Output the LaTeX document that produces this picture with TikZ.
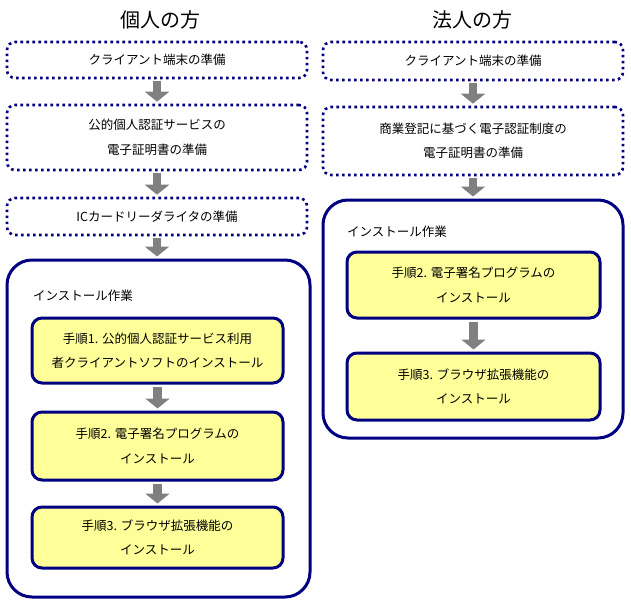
\documentclass[tikz,border=0pt]{standalone}
\usepackage{fontspec}
\setmainfont{Noto Sans CJK JP}
\usetikzlibrary{arrows.meta,positioning}
\definecolor{framenavy}{HTML}{000080}
\definecolor{stepyellow}{HTML}{FFFF99}
\definecolor{arrowgray}{HTML}{808080}
\tikzset{
  titlenode/.style={inner sep=0pt, font=\fontsize{20}{24}\selectfont},
  prepnode/.style={draw=framenavy, line width=2.6pt, dash pattern=on 2.6pt off 3.4pt, rounded corners=8pt, minimum width=300pt, align=center, inner sep=0pt, font=\fontsize{12.5}{24.5}\selectfont},
  groupnode/.style={draw=framenavy, line width=3pt, rounded corners=25pt, inner sep=0pt},
  stepnode/.style={draw=framenavy, fill=stepyellow, line width=3pt, rounded corners=10pt, align=center, inner sep=0pt, font=\fontsize{12.5}{24.5}\selectfont},
  labelnode/.style={anchor=west, inner sep=0pt, font=\fontsize{12.5}{15}\selectfont},
  flowarrow/.style={arrowgray, line width=8.5pt, -{Triangle[width=24pt,length=10pt]}, shorten <=2pt, shorten >=2pt}
}
\begin{document}
\begin{tikzpicture}[x=1pt,y=-1pt]
  \useasboundingbox (0,0) rectangle (631,604);
  % individual
  \node[titlenode] (ltitle) at (160,20) {個人の方};
  \node[prepnode, minimum height=36pt] (lprep1) at (157,60) {クライアント端末の準備};
  \node[prepnode, minimum height=65pt] (lprep2) at (157,137.5) {公的個人認証サービスの\\電子証明書の準備};
  \node[prepnode, minimum height=37pt] (lprep3) at (157,216.5) {ICカードリーダライタの準備};
  \node[groupnode, minimum width=303pt, minimum height=337pt] (linst) at (158.5,428.5) {};
  \node[labelnode] (llabel) at (33,296) {インストール作業};
  \node[stepnode, minimum width=251pt, minimum height=65pt] (lstep1) at (157.5,350.5) {手順1. 公的個人認証サービス利用\\者クライアントソフトのインストール};
  \node[stepnode, minimum width=251pt, minimum height=68pt] (lstep2) at (157.5,446) {手順2. 電子署名プログラムの\\インストール};
  \node[stepnode, minimum width=251pt, minimum height=61pt] (lstep3) at (157.5,537.5) {手順3. ブラウザ拡張機能の\\インストール};
  \draw[flowarrow] (lprep1) -- (lprep2);
  \draw[flowarrow] (lprep2) -- (lprep3);
  \draw[flowarrow] (lprep3.south) -- (linst.north -| lprep3.south);
  \draw[flowarrow] (lstep1) -- (lstep2);
  \draw[flowarrow] (lstep2) -- (lstep3);
  % corporate
  \node[titlenode] (rtitle) at (472,20) {法人の方};
  \node[prepnode, minimum height=38pt] (rprep1) at (473,61) {クライアント端末の準備};
  \node[prepnode, minimum height=68pt] (rprep2) at (473,141) {商業登記に基づく電子認証制度の\\電子証明書の準備};
  \node[groupnode, minimum width=300pt, minimum height=238pt] (rinst) at (473,319) {};
  \node[labelnode] (rlabel) at (347,232) {インストール作業};
  \node[stepnode, minimum width=253pt, minimum height=66pt] (rstep2) at (473.5,285) {手順2. 電子署名プログラムの\\インストール};
  \node[stepnode, minimum width=253pt, minimum height=67pt] (rstep3) at (473.5,386.5) {手順3. ブラウザ拡張機能の\\インストール};
  \draw[flowarrow] (rprep1) -- (rprep2);
  \draw[flowarrow] (rprep2) -- (rinst);
  \draw[flowarrow] (rstep2) -- (rstep3);
\end{tikzpicture}
\end{document}
